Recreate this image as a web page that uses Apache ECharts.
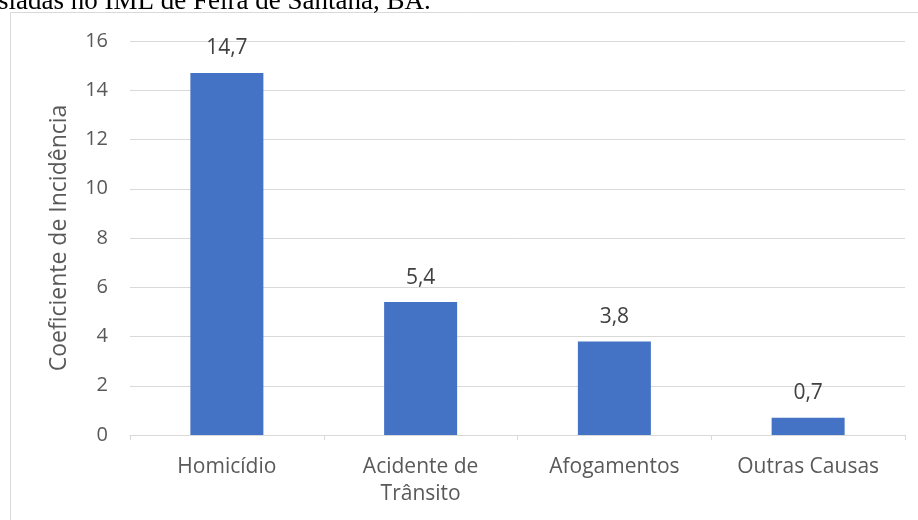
<!DOCTYPE html>
<html>
<head>
<meta charset="utf-8">
<script src="https://cdn.jsdelivr.net/npm/echarts@6/dist/echarts.min.js"></script>
<style>
html,body{margin:0;padding:0;background:#fff;}
#c{width:918px;height:520px;}
</style>
</head>
<body>
<div id="c"></div>
<script>
var categories = ['Homicídio', 'Acidente de\nTrânsito', 'Afogamentos', 'Outras Causas'];
var values = [14.7, 5.4, 3.8, 0.7];
var yTicks = { min: 0, max: 16, interval: 2 };
var yAxisName = 'Coeficiente de Incidência';
var titleText = 'sladas no IML de Feira de Santana, BA.';

var FONT = '"Open Sans", "Noto Sans", sans-serif';
var chart = echarts.init(document.getElementById('c'));
chart.setOption({
  animation: false,
  backgroundColor: '#fff',
  grid: { left: 130, right: 13, top: 41, bottom: 85 },
  graphic: [
    { type: 'rect', shape: { x: 10.5, y: 12.5, width: 930, height: 540 },
      style: { fill: 'none', stroke: '#d9d9d9', lineWidth: 1 }, silent: true },
    { type: 'text', x: -2, y: 2,
      style: { text: titleText, font: '27px "Liberation Serif", "Times New Roman", serif',
               fill: '#000', verticalAlign: 'middle', align: 'left' } }
  ],
  xAxis: {
    type: 'category',
    data: categories,
    axisLine: { lineStyle: { color: '#d9d9d9', width: 1 } },
    axisTick: { show: true, length: 5, lineStyle: { color: '#d9d9d9' } },
    axisLabel: { color: '#595959', fontFamily: FONT, fontSize: 21, lineHeight: 27, margin: 19, interval: 0 }
  },
  yAxis: {
    type: 'value',
    min: yTicks.min, max: yTicks.max, interval: yTicks.interval,
    name: yAxisName,
    nameLocation: 'middle',
    nameGap: 59,
    nameRotate: 90,
    nameTextStyle: { color: '#595959', fontFamily: FONT, fontSize: 23 },
    axisLine: { show: false },
    axisTick: { show: false },
    axisLabel: { color: '#595959', fontFamily: FONT, fontSize: 20, margin: 22 },
    splitLine: { lineStyle: { color: '#d9d9d9', width: 1 } }
  },
  series: [{
    type: 'bar',
    data: values,
    barWidth: 73,
    itemStyle: { color: '#4472C4' },
    label: {
      show: true, position: 'top', distance: 14,
      color: '#404040', fontFamily: FONT, fontSize: 21,
      formatter: function (p) { return p.value.toFixed(1).replace('.', ','); }
    }
  }]
});
</script>
</body>
</html>
